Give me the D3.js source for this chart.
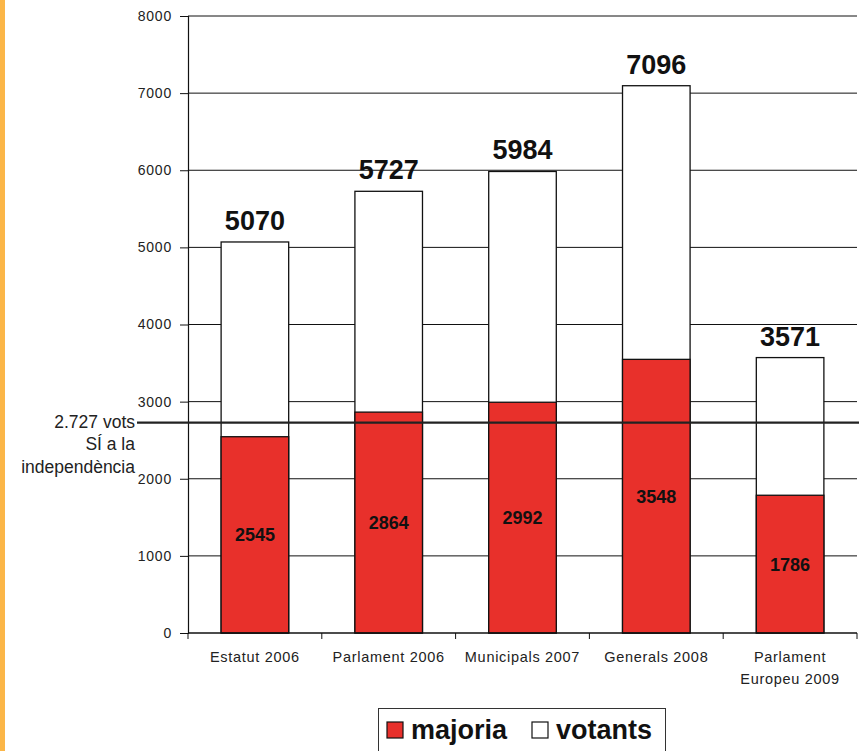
<!DOCTYPE html>
<html><head><meta charset="utf-8">
<script src="https://cdn.jsdelivr.net/npm/d3@7"></script>
<style>body{margin:0;background:#fff}svg{display:block}</style>
</head><body>
<script>
const categories = [["Estatut 2006"],["Parlament 2006"],["Municipals 2007"],["Generals 2008"],["Parlament","Europeu 2009"]];
const votants = [5070, 5727, 5984, 7096, 3571];
const majoria = [2545, 2864, 2992, 3548, 1786];
const yTicks = [0,1000,2000,3000,4000,5000,6000,7000,8000];
const refValue = 2727;
const refLabel = ["2.727 vots","SÍ a la","independència"];
const legendItems = ["majoria","votants"];

const W=859,H=751;
const FONT="Arial, Liberation Sans, sans-serif";
const svg=d3.select("body").append("svg").attr("width",W).attr("height",H);
svg.append("rect").attr("x",0).attr("y",0).attr("width",5).attr("height",H).attr("fill","#FBB648");

const x0=188,x1=857,yTop=16,yBot=633;
const x=d3.scaleBand().domain(d3.range(categories.length)).range([x0,x1]).paddingInner(0).paddingOuter(0);
const y=d3.scaleLinear().domain([0,8000]).range([yBot,yTop]);
const red="#E8302B";

// gridlines
svg.append("g").selectAll("line").data(yTicks.slice(1)).join("line")
 .attr("x1",x0).attr("x2",x1).attr("y1",d=>y(d)).attr("y2",d=>y(d))
 .attr("stroke","#111").attr("stroke-width",1);

// y axis
const ya=svg.append("g").attr("transform",`translate(${x0},0)`)
 .call(d3.axisLeft(y).tickValues(yTicks).tickSize(8).tickPadding(8).tickFormat(d3.format("d")));
ya.select(".domain").attr("stroke","#111").attr("stroke-width",1.2);
ya.selectAll(".tick line").attr("stroke","#111");
ya.selectAll("text").attr("font-family",FONT).attr("font-size",14).attr("letter-spacing",0.8).attr("fill","#222");

const bw=x.bandwidth()*0.505;
const bx=i=>x(i)+(x.bandwidth()-bw)/2;

// votants (white) bars
svg.append("g").selectAll("rect").data(votants).join("rect")
 .attr("x",(d,i)=>bx(i)).attr("width",bw).attr("y",d=>y(d)).attr("height",d=>yBot-y(d))
 .attr("fill","#fff").attr("stroke","#111").attr("stroke-width",1.3);
// majoria (red) bars
svg.append("g").selectAll("rect").data(majoria).join("rect")
 .attr("x",(d,i)=>bx(i)).attr("width",bw).attr("y",d=>y(d)).attr("height",d=>yBot-y(d))
 .attr("fill",red).attr("stroke","#111").attr("stroke-width",1.3);

// total labels
svg.append("g").selectAll("text").data(votants).join("text")
 .attr("x",(d,i)=>x(i)+x.bandwidth()/2).attr("y",d=>y(d)-12)
 .attr("text-anchor","middle").attr("font-family",FONT)
 .attr("font-weight","bold").attr("font-size",27).attr("fill","#111").text(d=>d);
// majoria labels
svg.append("g").selectAll("text").data(majoria).join("text")
 .attr("x",(d,i)=>x(i)+x.bandwidth()/2).attr("y",d=>y(d/2)+6.5)
 .attr("text-anchor","middle").attr("font-family",FONT)
 .attr("font-weight","bold").attr("font-size",18).attr("fill","#111").text(d=>d);

// x axis
svg.append("line").attr("x1",x0).attr("x2",x1).attr("y1",yBot).attr("y2",yBot).attr("stroke","#111").attr("stroke-width",1.3);
svg.append("g").selectAll("line").data(d3.range(categories.length+1)).join("line")
 .attr("x1",i=>i<categories.length?x(i):x1).attr("x2",i=>i<categories.length?x(i):x1)
 .attr("y1",yBot).attr("y2",yBot+6).attr("stroke","#111");
const cl=svg.append("g").selectAll("text").data(categories).join("text")
 .attr("x",(d,i)=>x(i)+x.bandwidth()/2).attr("y",662)
 .attr("text-anchor","middle").attr("font-family",FONT)
 .attr("font-size",14.5).attr("letter-spacing",0.7).attr("fill","#222");
cl.selectAll("tspan").data(d=>d).join("tspan").attr("x",function(){return this.parentNode.getAttribute("x");})
 .attr("dy",(d,i)=>i?22:0).text(d=>d);

// reference line
svg.append("line").attr("x1",137).attr("x2",W).attr("y1",y(refValue)).attr("y2",y(refValue))
 .attr("stroke","#222").attr("stroke-width",2.2);
svg.append("g").selectAll("text").data(refLabel).join("text")
 .attr("x",135).attr("y",(d,i)=>y(refValue)+5+i*22.5)
 .attr("text-anchor","end").attr("font-family",FONT)
 .attr("font-size",17.5).attr("fill","#222").text(d=>d);

// legend
svg.append("rect").attr("x",378.5).attr("y",708.5).attr("width",287).attr("height",60)
 .attr("fill","#fff").attr("stroke","#333").attr("stroke-width",1);
const lg=svg.append("g");
const lx=[387,532];
lg.selectAll("rect").data(legendItems).join("rect")
 .attr("x",(d,i)=>lx[i]).attr("y",722).attr("width",16).attr("height",16)
 .attr("fill",(d,i)=>i?"#fff":red).attr("stroke","#111").attr("stroke-width",1.2);
lg.selectAll("text").data(legendItems).join("text")
 .attr("x",(d,i)=>lx[i]+24).attr("y",739)
 .attr("font-family",FONT).attr("font-weight","bold")
 .attr("font-size",27).attr("fill","#111").text(d=>d);
</script>
</body></html>
